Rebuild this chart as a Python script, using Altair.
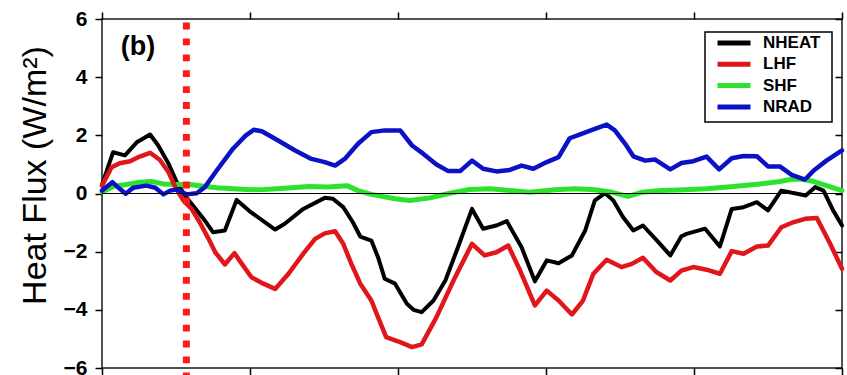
import altair as alt
import pandas as pd

# Daily-composite surface heat budget terms (W/m^2)
nheat_x = [0, 1.5, 3.1, 4.7, 6.5, 7.6, 9.0, 10.1, 11.2, 12.8, 13.9, 15.0, 16.6, 18.2, 20.0,
           23.4, 24.7, 27.2, 30.1, 31.2, 32.6, 33.9, 34.9, 36.4, 37.3, 38.2, 39.6, 41.2, 42.1,
           43.2, 44.8, 46.4, 48.1, 50.0, 51.5, 53.3, 54.7, 56.7, 58.5, 60.1, 61.7, 63.5, 65.3,
           66.6, 68.0, 69.1, 70.4, 71.8, 73.1, 75.0, 76.8, 78.3, 79.0, 81.5, 83.5, 85.1, 86.7,
           88.5, 90.0, 91.8, 93.6, 95.1, 96.4, 97.5, 98.8, 100]
nheat_y = [0.3, 1.42, 1.31, 1.76, 2.03, 1.65, 1.02, 0.39, -0.07, -0.58, -0.93, -1.33, -1.27,
           -0.22, -0.62, -1.24, -1.04, -0.53, -0.15, -0.18, -0.47, -0.99, -1.48, -1.62, -2.19,
           -2.93, -3.1, -3.79, -4.0, -4.08, -3.68, -2.99, -1.85, -0.53, -1.21, -1.10, -0.95,
           -1.85, -3.02, -2.30, -2.40, -2.13, -1.27, -0.24, 0.01, -0.24, -0.81, -1.27, -1.10,
           -1.62, -2.13, -1.47, -1.39, -1.21, -1.82, -0.53, -0.47, -0.30, -0.58, 0.10, 0.01,
           -0.07, 0.22, 0.10, -0.58, -1.1]

lhf_x = [0, 1.3, 2.4, 3.8, 5.1, 6.5, 7.8, 9.0, 9.9, 11.0, 12.1, 13.2, 14.4, 15.3, 16.6, 17.9,
         18.9, 20.2, 21.8, 23.4, 25.2, 27.2, 28.8, 30.1, 31.5, 32.6, 33.7, 34.9, 36.4, 37.3,
         38.4, 39.6, 40.3, 41.9, 43.2, 45.2, 47.5, 50.0, 51.7, 53.3, 54.9, 56.5, 58.5, 60.1,
         61.7, 63.5, 65.0, 66.4, 68.2, 70.2, 71.6, 73.1, 74.9, 76.8, 78.3, 79.9, 81.7, 83.5,
         85.1, 86.7, 88.5, 90.0, 91.8, 93.4, 95.0, 96.6, 98.4, 100]
lhf_y = [0.27, 0.9, 1.04, 1.11, 1.27, 1.40, 1.16, 0.73, 0.22, -0.24, -0.53, -0.99, -1.56,
         -2.02, -2.44, -2.05, -2.42, -2.88, -3.10, -3.28, -2.76, -2.07, -1.56, -1.37, -1.30,
         -1.73, -2.42, -3.10, -3.68, -4.25, -4.94, -5.05, -5.11, -5.28, -5.19, -4.25, -2.99,
         -1.73, -2.13, -2.02, -1.79, -2.65, -3.85, -3.34, -3.68, -4.16, -3.68, -2.76, -2.28,
         -2.53, -2.42, -2.21, -2.70, -2.99, -2.65, -2.53, -2.62, -2.76, -1.98, -2.07, -1.82,
         -1.79, -1.16, -0.99, -0.87, -0.84, -1.73, -2.59]

shf_x = [0, 1.5, 3.3, 5.1, 6.7, 8.3, 10.1, 11.9, 13.2, 15.5, 17.7, 20.0, 22.0, 24.7, 27.9,
         30.6, 33.1, 34.6, 36.4, 39.6, 41.6, 44.3, 47.0, 49.7, 52.4, 55.1, 57.8, 61.2, 63.9,
         66.6, 68.9, 71.1, 72.9, 75.6, 78.8, 81.7, 85.3, 88.9, 91.6, 93.0, 94.3, 96.1, 97.9, 100]
shf_y = [0.05, 0.24, 0.31, 0.39, 0.41, 0.33, 0.31, 0.31, 0.27, 0.2, 0.16, 0.13, 0.14, 0.18,
         0.24, 0.22, 0.27, 0.1, -0.03, -0.18, -0.24, -0.15, 0.01, 0.14, 0.16, 0.1, 0.04, 0.13,
         0.16, 0.13, 0.04, -0.1, 0.04, 0.1, 0.13, 0.16, 0.24, 0.33, 0.41, 0.48, 0.5, 0.42,
         0.27, 0.1]

nrad_x = [0, 1.4, 2.4, 3.2, 4.2, 6.0, 7.2, 8.3, 9.2, 10.1, 11.4, 12.8, 13.9, 15.5, 17.7,
          19.4, 20.5, 21.6, 23.8, 26.1, 28.3, 30.1, 31.5, 32.8, 34.6, 36.4, 38.2, 40.3, 41.9,
          43.4, 45.2, 46.8, 48.4, 50.0, 51.5, 53.3, 55.1, 56.7, 58.3, 60.1, 61.7, 63.2, 64.8,
          66.6, 68.2, 69.3, 70.7, 71.8, 73.4, 74.7, 76.8, 78.3, 79.9, 81.7, 83.4, 85.1, 86.7,
          88.5, 90.0, 91.6, 93.2, 95.0, 96.1, 97.9, 100]
nrad_y = [0.1, 0.39, 0.16, -0.01, 0.2, 0.27, 0.2, -0.03, 0.1, 0.14, -0.03, 0.01, 0.22, 0.79,
          1.54, 1.99, 2.19, 2.14, 1.82, 1.48, 1.19, 1.08, 0.96, 1.19, 1.71, 2.11, 2.17, 2.17,
          1.65, 1.37, 1.0, 0.77, 0.77, 1.13, 0.85, 0.76, 0.81, 0.96, 0.85, 1.08, 1.25, 1.9,
          2.05, 2.22, 2.37, 2.17, 1.71, 1.28, 1.13, 1.17, 0.83, 1.05, 1.11, 1.27, 0.83, 1.21,
          1.29, 1.28, 0.93, 0.93, 0.64, 0.48, 0.77, 1.13, 1.48]

series_names = ["NHEAT", "LHF", "SHF", "NRAD"]
series_colors = ["#000000", "#e0161b", "#2de22d", "#0b12c6"]
event_x = 11.4          # onset marker
x_ticks = [0, 20, 40, 60, 80, 100]
y_ticks = [-6, -4, -2, 0, 2, 4, 6]

frames = []
for name, xs, ys in [("NHEAT", nheat_x, nheat_y), ("LHF", lhf_x, lhf_y),
                     ("SHF", shf_x, shf_y), ("NRAD", nrad_x, nrad_y)]:
    frames.append(pd.DataFrame({"x": xs, "value": ys, "series": name}))
df = pd.concat(frames, ignore_index=True)

FONT = "Liberation Sans"
W, H = 740, 349

x_scale = alt.Scale(domain=[0, 100], nice=False, zero=False)
y_scale = alt.Scale(domain=[-6, 6], nice=False, zero=False)

color = alt.Color(
    "series:N",
    scale=alt.Scale(domain=series_names, range=series_colors),
    legend=alt.Legend(
        orient="none", legendX=613, legendY=13.5, title=None,
        symbolType="stroke", symbolSize=1089, symbolStrokeWidth=5,
        labelFont=FONT, labelFontSize=17, labelFontWeight="bold", labelColor="black",
        labelOffset=10, padding=0, clipHeight=21, rowPadding=0.3,
    ),
)

def series_layer(name, width, first=False):
    x_enc = alt.X("x:Q", scale=x_scale,
                  axis=alt.Axis(values=x_ticks, labels=False, title=None, grid=False,
                                domain=False, ticks=True, tickSize=7, tickWidth=1.5,
                                tickColor="black") if first else None)
    y_enc = alt.Y("value:Q", scale=y_scale,
                  axis=alt.Axis(values=y_ticks, grid=False, domain=False, tickSize=7,
                                tickWidth=1.5, tickColor="black", labelFont=FONT,
                                labelFontSize=21, labelFontWeight="bold", labelColor="black",
                                labelPadding=8, title="Heat Flux (W/m²)", titleFont=FONT,
                                titleFontSize=34, titleFontWeight="normal",
                                titleColor="black", titleAngle=270, titleX=-57, titleY=156,
                                titleBaseline="alphabetic", titleAlign="center")
                  if first else None)
    return alt.Chart(df).transform_filter(alt.datum.series == name).mark_line(
        strokeWidth=width, strokeJoin="round", strokeCap="round"
    ).encode(x=x_enc, y=y_enc, color=color)

nheat = series_layer("NHEAT", 4, first=True)
shf = series_layer("SHF", 5)
lhf = series_layer("LHF", 4.5)
nrad = series_layer("NRAD", 4.5)

# zero reference line
zero = alt.Chart(pd.DataFrame({"value": [0]})).mark_rule(
    color="black", strokeWidth=1.2
).encode(y=alt.Y("value:Q", scale=y_scale, axis=None))

# top and right frame ticks
frame_ticks = alt.Chart(df).mark_point(opacity=0).encode(
    x=alt.X("x:Q", scale=x_scale,
            axis=alt.Axis(orient="top", values=x_ticks, labels=False, title=None, grid=False,
                          domain=False, tickSize=7, tickWidth=1.5, tickColor="black")),
    y=alt.Y("value:Q", scale=y_scale,
            axis=alt.Axis(orient="right", offset=-7, values=y_ticks, labels=False,
                          title=None, grid=False, domain=False, tickSize=7, tickWidth=1.5,
                          tickColor="black")),
)

# onset marker (dotted vertical line)
event = alt.Chart(pd.DataFrame({"x": [event_x], "top": [6], "bottom": [-6.3]})).mark_rule(
    color="#ff1a1a", strokeWidth=7, strokeDash=[6.8, 9.1], strokeDashOffset=12.3,
    strokeCap="butt"
).encode(
    x=alt.X("x:Q", scale=x_scale, axis=None),
    y=alt.Y("top:Q", scale=y_scale, axis=None),
    y2="bottom:Q",
)

# legend frame
legend_box = alt.Chart(pd.DataFrame({"k": [0]})).mark_rect(
    fill="white", stroke="black", strokeWidth=1.5
).encode(x=alt.value(603), x2=alt.value(730), y=alt.value(13), y2=alt.value(103))

panel = alt.Chart(pd.DataFrame({"label": ["(b)"]})).mark_text(
    font=FONT, fontSize=27, fontWeight="bold", color="black", align="center",
    baseline="middle"
).encode(x=alt.value(36), y=alt.value(28), text="label:N")

chart = alt.layer(
    nheat, shf, lhf, nrad, zero, frame_ticks, legend_box, event, panel
).resolve_axis(x="independent", y="independent").properties(
    width=W, height=H,
    autosize=alt.AutoSizeParams(type="none"),
    padding={"left": 102, "top": 19, "right": 5, "bottom": 7},
    background="white",
).configure_view(stroke="#1a1a1a", strokeWidth=1.5)

chart.save("out.html", embed_options={"renderer": "svg", "actions": False})
